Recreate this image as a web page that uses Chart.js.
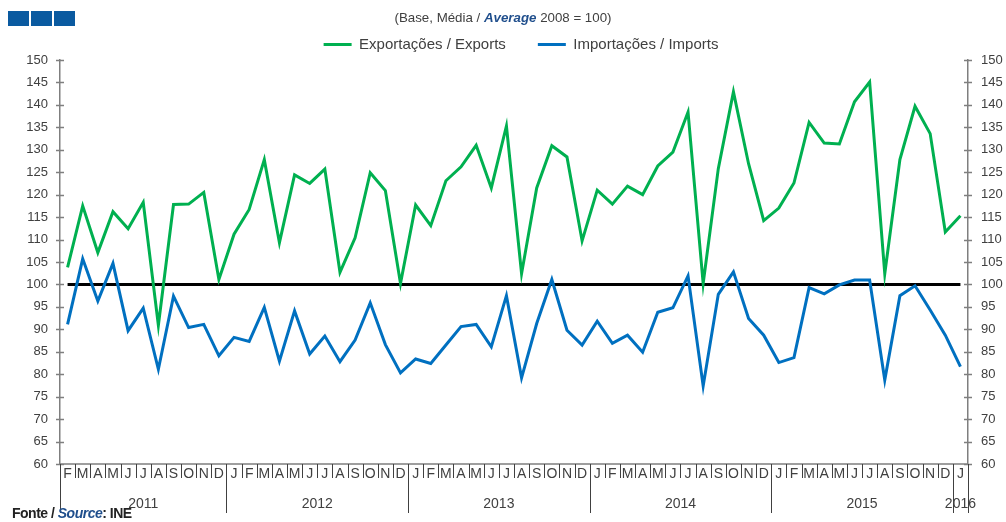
<!DOCTYPE html>
<html>
<head>
<meta charset="utf-8">
<title>Exportações / Importações</title>
<script src="https://cdn.jsdelivr.net/npm/chart.js"></script>
<style>
  body { margin: 0; background: #fff; }
  #wrap { position: relative; width: 1006px; height: 522px; font-family: "Liberation Sans", Arial, sans-serif; overflow: hidden; }
  #chart { position: absolute; left: 0; top: 0; }
  .sq { position: absolute; top: 11px; width: 21px; height: 15px; background: #0a5aa0; }
  #subtitle { position: absolute; top: 10px; left: 0; width: 1006px; text-align: center; font-size: 13.3px; color: #404040; z-index: 2; }
  #subtitle b { color: #1f4e8c; font-style: italic; }
  #source { position: absolute; left: 12px; top: 505px; font-size: 14px; font-weight: bold; color: #222; letter-spacing: -0.5px; z-index: 2; }
  #source i { color: #1f4e8c; }
</style>
</head>
<body>
<div id="wrap">
  <canvas id="chart" width="1006" height="522"></canvas>
  <div class="sq" style="left:8px"></div>
  <div class="sq" style="left:31px"></div>
  <div class="sq" style="left:54px"></div>
  <div id="subtitle">(Base, Média / <b>Average</b> 2008 = 100)</div>
  <div id="source">Fonte / <i>Source</i>: INE</div>
</div>
<script>
// months Feb 2011 .. Jan 2016
const monthLabels = [
  "F","M","A","M","J","J","A","S","O","N","D",
  "J","F","M","A","M","J","J","A","S","O","N","D",
  "J","F","M","A","M","J","J","A","S","O","N","D",
  "J","F","M","A","M","J","J","A","S","O","N","D",
  "J","F","M","A","M","J","J","A","S","O","N","D",
  "J"
];
const yearLabels = ["2011", "2012", "2013", "2014", "2015", "2016"];
const monthsPerYear = [11, 12, 12, 12, 12, 1];

const exportsIdx = [
  103.8, 117.5, 107.1, 116.2, 112.4, 118.3, 90.9, 117.8, 117.9, 120.5, 101.1,
  111.2, 116.7, 127.8, 109.3, 124.4, 122.5, 125.7, 102.7, 110.4, 124.9, 120.9, 100.2,
  117.7, 113.1, 123.1, 126.2, 131.0, 121.5, 135.3, 102.4, 121.5, 130.9, 128.4, 109.7,
  121.0, 117.9, 121.9, 120.0, 126.4, 129.5, 138.4, 100.2, 125.8, 142.9, 126.9, 114.2,
  117.0, 122.6, 136.1, 131.5, 131.3, 140.7, 145.1, 102.4, 127.8, 139.7, 133.6, 111.7,
  115.3
];
const importsIdx = [
  91.1, 105.7, 96.3, 104.7, 89.7, 94.7, 81.1, 97.4, 90.4, 91.1, 84.1,
  88.2, 87.3, 94.9, 82.9, 94.1, 84.5, 88.5, 82.8, 87.6, 95.9, 86.6, 80.3,
  83.4, 82.4, 86.5, 90.6, 91.1, 86.1, 97.5, 79.2, 91.3, 101.1, 89.8, 86.5,
  91.8, 86.9, 88.7, 84.9, 93.8, 94.8, 101.9, 77.4, 97.8, 102.8, 92.4, 88.7,
  82.6, 83.7, 99.3, 97.9, 99.9, 101.0, 101.0, 78.7, 97.5, 99.7, 94.3, 88.7,
  81.7
];
const baseLevel = 100;
const yMin = 60, yMax = 150, yStep = 5;

Chart.defaults.font.family = "'Liberation Sans', Arial, sans-serif";
Chart.defaults.color = "#404040";

// base line, crossing ticks and the month / year axis
const axisDecor = {
  id: "axisDecor",
  afterLayout(chart) {
    // legend sits a bit right of centre in the original
    const lg = chart.legend;
    if (lg) { lg.left += 18; lg.right += 18; lg.top += 2; }
  },
  beforeDatasetsDraw(chart) {
    const { ctx, scales: { x, y } } = chart;
    const py = y.getPixelForValue(baseLevel);
    ctx.save();
    ctx.strokeStyle = "#000";
    ctx.lineWidth = 3;
    ctx.beginPath();
    ctx.moveTo(x.getPixelForValue(0), py);
    ctx.lineTo(x.getPixelForValue(monthLabels.length - 1), py);
    ctx.stroke();
    ctx.restore();
  },
  afterDraw(chart) {
    const { ctx, chartArea: a, scales: { x, y } } = chart;
    const n = monthLabels.length;
    const edge = i => i === 0 ? a.left : i === n ? a.right
      : (x.getPixelForValue(i - 1) + x.getPixelForValue(i)) / 2;

    ctx.save();
    ctx.strokeStyle = "#7f7f7f";
    ctx.lineWidth = 1.5;
    ctx.beginPath();
    y.ticks.forEach(t => {
      const py = Math.round(y.getPixelForValue(t.value)) + 0.5;
      ctx.moveTo(a.left - 4, py); ctx.lineTo(a.left + 4, py);
      ctx.moveTo(a.right - 4, py); ctx.lineTo(a.right + 4, py);
    });
    ctx.moveTo(a.left, a.bottom); ctx.lineTo(a.right, a.bottom);
    ctx.stroke();

    // separators
    const yearEdges = [0];
    monthsPerYear.forEach(m => yearEdges.push(yearEdges[yearEdges.length - 1] + m));
    ctx.strokeStyle = "#404040";
    ctx.lineWidth = 1;
    ctx.beginPath();
    for (let i = 0; i <= n; i++) {
      const px = Math.round(edge(i)) + 0.5;
      const long = yearEdges.includes(i);
      ctx.moveTo(px, a.bottom);
      ctx.lineTo(px, long ? a.bottom + 49 : a.bottom + 14);
    }
    ctx.stroke();

    ctx.fillStyle = "#404040";
    ctx.textAlign = "center";
    ctx.textBaseline = "middle";
    ctx.font = "14px 'Liberation Sans', Arial, sans-serif";
    monthLabels.forEach((m, i) => ctx.fillText(m, x.getPixelForValue(i), a.bottom + 10));
    yearLabels.forEach((yr, k) => {
      const cx = (edge(yearEdges[k]) + edge(yearEdges[k + 1])) / 2;
      ctx.fillText(yr, cx, a.bottom + 40);
    });
    ctx.restore();
  }
};

new Chart(document.getElementById("chart"), {
  type: "line",
  data: {
    labels: monthLabels,
    datasets: [
      {
        label: "Exportações / Exports",
        data: exportsIdx,
        borderColor: "#00b050",
        backgroundColor: "#00b050",
        borderWidth: 3,
        pointRadius: 0,
        tension: 0,
        yAxisID: "y"
      },
      {
        label: "Importações / Imports",
        data: importsIdx,
        borderColor: "#0070c0",
        backgroundColor: "#0070c0",
        borderWidth: 3,
        pointRadius: 0,
        tension: 0,
        yAxisID: "y"
      }
    ]
  },
  options: {
    responsive: false,
    devicePixelRatio: 1,
    animation: false,
    layout: { padding: { top: 3, left: 0, right: 0, bottom: 58 } },
    plugins: {
      tooltip: { enabled: false },
      legend: {
        position: "top",
        labels: {
          boxWidth: 28,
          boxHeight: 3,
          padding: 32,
          font: { size: 15 },
          color: "#404040",
          generateLabels: chart => chart.data.datasets.map((ds, i) => ({
            text: ds.label,
            fillStyle: ds.borderColor,
            strokeStyle: ds.borderColor,
            lineWidth: 0,
            datasetIndex: i,
            fontColor: "#404040"
          }))
        }
      }
    },
    scales: {
      x: { type: "category", offset: true, display: false },
      y: {
        position: "left",
        min: yMin, max: yMax,
        afterFit: s => { s.width = 60; },
        ticks: { stepSize: yStep, padding: 12, font: { size: 13 }, color: "#404040" },
        grid: { display: false, drawTicks: false },
        border: { display: true, color: "#7f7f7f", width: 1.5 }
      },
      y2: {
        position: "right",
        min: yMin, max: yMax,
        afterFit: s => { s.width = 38; },
        ticks: { stepSize: yStep, padding: 13, font: { size: 13 }, color: "#404040" },
        grid: { display: false, drawTicks: false },
        border: { display: true, color: "#7f7f7f", width: 1.5 }
      }
    }
  },
  plugins: [axisDecor]
});
</script>
</body>
</html>
